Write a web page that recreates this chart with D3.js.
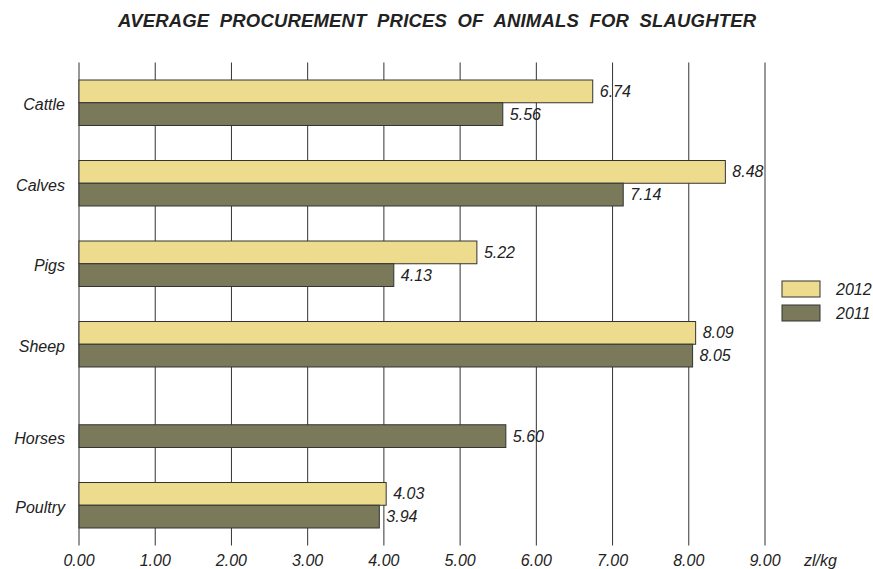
<!DOCTYPE html>
<html>
<head>
<meta charset="utf-8">
<script src="https://cdn.jsdelivr.net/npm/d3@7"></script>
<style>
  body { margin: 0; background: #fff; }
  svg text { font-family: "Liberation Sans", Arial, sans-serif; font-style: italic; fill: #222; }
</style>
</head>
<body>
<div id="chart"></div>
<script>
// dane z wykresu
const categories = ["Cattle", "Calves", "Pigs", "Sheep", "Horses", "Poultry"];
const series_names = ["2012", "2011"];
const values_2012 = [6.74, 8.48, 5.22, 8.09, null, 4.03];
const values_2011 = [5.56, 7.14, 4.13, 8.05, 5.60, 3.94];
const tick_values = [0, 1, 2, 3, 4, 5, 6, 7, 8, 9];
const unit_label = "zl/kg";
const title_text = "AVERAGE  PROCUREMENT  PRICES  OF  ANIMALS  FOR  SLAUGHTER";

const width = 873, height = 569;
const margin = {top: 62.5, left: 79, right: 108, bottom: 24};
const colors = {"2012": "#eedc8e", "2011": "#7a7a5a"};

const svg = d3.select("#chart").append("svg")
  .attr("width", width)
  .attr("height", height);

const x = d3.scaleLinear()
  .domain([0, 9])
  .range([margin.left, 765]);

const y = d3.scaleBand()
  .domain(categories)
  .range([margin.top, 545.5])
  .paddingInner(0.435)
  .paddingOuter(0.2175);

const y_sub = d3.scaleBand()
  .domain(series_names)
  .range([0, y.bandwidth()]);

// tytul
svg.append("text")
  .attr("x", 118)
  .attr("y", 27)
  .attr("textLength", 638)
  .attr("lengthAdjust", "spacing")
  .style("font-size", "18.5px")
  .style("font-weight", "bold")
  .style("white-space", "pre")
  .text(title_text);

// linie siatki
svg.append("g")
  .selectAll("line")
  .data(tick_values)
  .enter()
  .append("line")
    .attr("x1", d => x(d))
    .attr("x2", d => x(d))
    .attr("y1", margin.top)
    .attr("y2", 545.5)
    .attr("stroke", "#333")
    .attr("stroke-width", 1);

// etykiety osi x
svg.append("g")
  .selectAll("text")
  .data(tick_values)
  .enter()
  .append("text")
    .attr("x", d => x(d))
    .attr("y", 566)
    .attr("text-anchor", "middle")
    .style("font-size", "16px")
    .text(d => d3.format(".2f")(d));

svg.append("text")
  .attr("x", 804)
  .attr("y", 566)
  .style("font-size", "16px")
  .text(unit_label);

// slupki
const rows = categories.map((c, i) => ({
  name: c,
  bars: [
    {series: "2012", value: values_2012[i]},
    {series: "2011", value: values_2011[i]}
  ].filter(b => b.value != null)
}));

const group = svg.append("g")
  .selectAll("g")
  .data(rows)
  .enter()
  .append("g")
    .attr("transform", d => "translate(0," + y(d.name) + ")");

group.selectAll("rect")
  .data(d => d.bars)
  .enter()
  .append("rect")
    .attr("x", x(0))
    .attr("y", d => y_sub(d.series))
    .attr("width", d => x(d.value) - x(0))
    .attr("height", y_sub.bandwidth())
    .attr("fill", d => colors[d.series])
    .attr("stroke", "#333")
    .attr("stroke-width", 1);

group.selectAll(".value-label")
  .data(d => d.bars)
  .enter()
  .append("text")
    .classed("value-label", true)
    .attr("x", d => x(d.value) + 7)
    .attr("y", d => y_sub(d.series) + y_sub.bandwidth() / 2)
    .attr("dy", "0.35em")
    .style("font-size", "16px")
    .text(d => d3.format(".2f")(d.value));

// etykiety kategorii - srodek narysowanych slupkow
group.append("text")
  .attr("x", 65)
  .attr("y", d => {
    const ys = d.bars.map(b => y_sub(b.series));
    return (d3.min(ys) + d3.max(ys) + y_sub.bandwidth()) / 2 + 2;
  })
  .attr("dy", "0.35em")
  .attr("text-anchor", "end")
  .style("font-size", "16px")
  .text(d => d.name);

// legenda
const legend = svg.append("g")
  .selectAll("g")
  .data(series_names)
  .enter()
  .append("g")
    .attr("transform", (d, i) => "translate(782," + (281 + i * 24) + ")");

legend.append("rect")
  .attr("width", 38)
  .attr("height", 16)
  .attr("fill", d => colors[d])
  .attr("stroke", "#333")
  .attr("stroke-width", 1);

legend.append("text")
  .attr("x", 54)
  .attr("y", 8)
  .attr("dy", "0.35em")
  .style("font-size", "16px")
  .text(d => d);
</script>
</body>
</html>
